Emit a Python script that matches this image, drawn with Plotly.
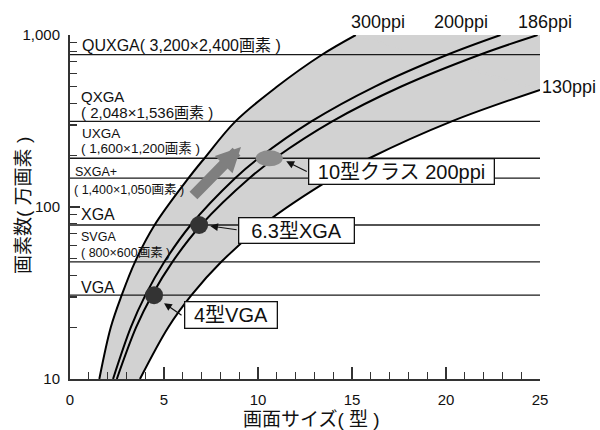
import math
import plotly.graph_objects as go

# ---------------- data ----------------
X_RANGE = [0, 25]          # 画面サイズ (型)
Y_RANGE = [10, 1000]       # 画素数 (万画素)

RES_NAMES = ["QUXGA", "QXGA", "UXGA", "SXGA+", "XGA", "SVGA", "VGA"]
RES_DIMS = ["3,200×2,400", "2,048×1,536", "1,600×1,200", "1,400×1,050", None, "800×600", None]
RES_PIXELS = [768, 314.6, 192, 147, 78.6, 48, 30.72]   # 万画素

CURVE_NAMES = ["300ppi", "200ppi", "186ppi", "130ppi"]
PPI300_X = [1.56, 2.17, 2.75, 3.46, 4.5, 6.3, 7.15, 8.8, 11.0, 13.4, 15.2]
PPI300_Y = [10, 20, 30.72, 48, 78.6, 147, 192, 314.6, 500, 768, 1000]
PPI200_X = [2.29, 3.24, 4.01, 5.02, 6.42, 8.78, 10.03, 12.84, 16.19, 20.07, 22.9]
PPI200_Y = [10, 20, 30.72, 48, 78.6, 147, 192, 314.6, 500, 768, 1000]
PPI186_X = [2.49, 3.52, 4.36, 5.45, 6.97, 9.54, 10.9, 13.95, 17.59, 21.8, 24.87]
PPI186_Y = [10, 20, 30.72, 48, 78.6, 147, 192, 314.6, 500, 768, 1000]
PPI130_X = [3.72, 5.23, 6.46, 8.05, 10.26, 13.96, 15.92, 20.3, 25.0]
PPI130_Y = [10, 20, 30.72, 48, 78.6, 147, 192, 314.6, 480]

DEVICE_NAMES = ["4型VGA", "6.3型XGA"]
DEVICE_X = [4.47, 6.87]
DEVICE_Y = [30.72, 78.6]
CLASS10_NAME = "10型クラス 200ppi"
CLASS10_X = 10.6
CLASS10_Y = 192

X_TICKS = [0, 5, 10, 15, 20, 25]
Y_TICKS = [10, 100, 1000]
Y_TICK_TEXT = ["10", "100", "1,000"]
Y_MINOR = [20, 30, 40, 50, 60, 70, 80, 90, 200, 300, 400, 500, 600, 700, 800, 900]

X_TITLE = "画面サイズ( 型 )"
Y_TITLE = "画素数( 万画素 )"

# ---------------- layout helpers ----------------
W, H = 600, 430
M = dict(l=70, r=60, t=35, b=51, autoexpand=False)
PW = W - M["l"] - M["r"]
PH = H - M["t"] - M["b"]
LOG_LO, LOG_HI = math.log10(Y_RANGE[0]), math.log10(Y_RANGE[1])
PLOT_L = M["l"]
PLOT_B = M["t"] + PH


def px2x(px):
    return X_RANGE[0] + (px - PLOT_L) / PW * (X_RANGE[1] - X_RANGE[0])


def py2ylog(py):
    return LOG_LO + (PLOT_B - py) / PH * (LOG_HI - LOG_LO)


def px2paper(px):
    return (px - PLOT_L) / PW


def py2paper(py):
    return (PLOT_B - py) / PH


FONT = "Liberation Sans, Arial, Noto Sans CJK JP, sans-serif"
INK = "#111111"
GRAY_FILL = "#d2d2d2"

fig = go.Figure()

# shaded band between 300ppi and 130ppi
fig.add_trace(go.Scatter(x=PPI300_X, y=PPI300_Y, mode="lines",
                         line=dict(width=0, shape="spline", color=GRAY_FILL),
                         hoverinfo="skip", showlegend=False))
fig.add_trace(go.Scatter(x=PPI130_X, y=PPI130_Y, mode="lines", fill="tonexty",
                         fillcolor=GRAY_FILL,
                         line=dict(width=0, shape="spline", color=GRAY_FILL),
                         hoverinfo="skip", showlegend=False))
# top-right corner of the band
fig.add_trace(go.Scatter(x=[PPI300_X[-1], X_RANGE[1], PPI130_X[-1], PPI300_X[-1]],
                         y=[Y_RANGE[1], Y_RANGE[1], PPI130_Y[-1], Y_RANGE[1]],
                         mode="lines", fill="toself", fillcolor=GRAY_FILL,
                         line=dict(width=1.5, color=GRAY_FILL),
                         hoverinfo="skip", showlegend=False))

# resolution lines
for v in RES_PIXELS:
    fig.add_trace(go.Scatter(x=X_RANGE, y=[v, v], mode="lines",
                             line=dict(color="#1a1a1a", width=1.3),
                             hoverinfo="skip", showlegend=False))

# ppi curves
for xs, ys, nm in [(PPI300_X, PPI300_Y, CURVE_NAMES[0]),
                   (PPI200_X, PPI200_Y, CURVE_NAMES[1]),
                   (PPI186_X, PPI186_Y, CURVE_NAMES[2]),
                   (PPI130_X, PPI130_Y, CURVE_NAMES[3])]:
    fig.add_trace(go.Scatter(x=xs, y=ys, mode="lines", name=nm,
                             line=dict(color="#000000", width=2, shape="spline"),
                             showlegend=False))

# device dots
fig.add_trace(go.Scatter(x=DEVICE_X, y=DEVICE_Y, mode="markers",
                         marker=dict(size=18, color="#333333", line=dict(width=0)),
                         showlegend=False))

# 10-inch class ellipse
fig.add_shape(type="circle", xref="x", yref="paper",
              xsizemode="pixel", ysizemode="pixel",
              xanchor=CLASS10_X,
              yanchor=(math.log10(CLASS10_Y) - LOG_LO) / (LOG_HI - LOG_LO),
              x0=-13.5, x1=13.5, y0=-8, y1=8,
              fillcolor="#8c8c8c", line=dict(width=0), layer="above")

ann = []

# resolution labels (text lines relative to each line)
LABEL_LINES = [
    # (index, text, size, xshift, yshift)
    (0, f"{RES_NAMES[0]}( {RES_DIMS[0]}画素 )", 16, 10, 9),
    (1, RES_NAMES[1], 15, 9, 25),
    (1, f"( {RES_DIMS[1]}画素 )", 15, 9, 9),
    (2, RES_NAMES[2], 13.5, 10, 25),
    (2, f"( {RES_DIMS[2]}画素 )", 13.5, 9, 10),
    (3, RES_NAMES[3], 12.5, 3, 6),
    (3, f"( {RES_DIMS[3]}画素 )", 12.5, 2, -12),
    (4, RES_NAMES[4], 16, 9, 10),
    (5, RES_NAMES[5], 12.5, 9, 25),
    (5, f"( {RES_DIMS[5]}画素 )", 12.5, 9, 9),
    (6, RES_NAMES[6], 16, 9, 8),
]
for i, txt, sz, xs, ys in LABEL_LINES:
    ann.append(dict(x=X_RANGE[0], y=math.log10(RES_PIXELS[i]), xref="x", yref="y",
                    text=txt, showarrow=False, xanchor="left", yanchor="middle",
                    xshift=xs, yshift=ys, font=dict(size=sz, color=INK, family=FONT)))

# ppi labels (outside the plot area -> paper coordinates)
PPI_LABEL_PX = [(378, 21.5), (460.5, 21.5), (544.5, 21.5), (569, 87)]
for nm, (px, py) in zip(CURVE_NAMES, PPI_LABEL_PX):
    ann.append(dict(x=px2paper(px), y=py2paper(py), xref="paper", yref="paper", text=nm,
                    showarrow=False, xanchor="center", yanchor="middle",
                    font=dict(size=18, color=INK, family=FONT)))

# thick gray trend arrow
ann.append(dict(x=px2x(241), y=py2ylog(147), xref="x", yref="y", text="",
                showarrow=True, ax=-49, ay=50, arrowhead=2, arrowsize=0.45,
                arrowwidth=11, arrowcolor="#7f7f7f"))

# callout boxes with small arrows
CALLOUTS = [
    # text, anchor x, anchor y, box center shift, box size, arrow tip shift, arrow tail offset
    (DEVICE_NAMES[0], DEVICE_X[0], DEVICE_Y[0], (77, -20), (94, 28), (10, -8), (19, 13)),
    (DEVICE_NAMES[1], DEVICE_X[1], DEVICE_Y[1], (97.5, -5.5), (117, 27), (11, -1), (28, 4)),
    (CLASS10_NAME, CLASS10_X, CLASS10_Y, (132.5, -13.5), (187, 27), (17, -3), (22, 11)),
]
BW = 1.3
for txt, x, y, (bx, by), (w, h), (tx, ty), (ax, ay) in CALLOUTS:
    ann.append(dict(x=x, y=math.log10(y), xref="x", yref="y", text=txt,
                    showarrow=False, xshift=bx, yshift=by,
                    width=w - 2 * BW, height=h - 2 * BW, borderpad=0,
                    bordercolor=INK, borderwidth=BW, bgcolor="#ffffff",
                    font=dict(size=20, color=INK, family=FONT)))
    ann.append(dict(x=x, y=math.log10(y), xref="x", yref="y", text="",
                    showarrow=True, xshift=tx, yshift=ty, ax=ax, ay=ay,
                    arrowhead=2, arrowsize=1.3, arrowwidth=1.2, arrowcolor=INK))

# axis titles
ann.append(dict(x=px2paper(311.5), y=py2paper(419), xref="paper", yref="paper",
                text=X_TITLE, showarrow=False, xanchor="center", yanchor="middle",
                font=dict(size=19, color=INK, family=FONT)))
ann.append(dict(x=px2paper(23), y=py2paper(206), xref="paper", yref="paper",
                text=Y_TITLE, showarrow=False, xanchor="center", yanchor="middle",
                textangle=-90, font=dict(size=19, color=INK, family=FONT)))

fig.update_layout(
    width=W, height=H, margin=M,
    paper_bgcolor="#ffffff", plot_bgcolor="#ffffff",
    showlegend=False, annotations=ann,
    font=dict(family=FONT, size=15, color=INK),
    xaxis=dict(range=X_RANGE, tickvals=X_TICKS, ticks="inside", ticklen=12,
               tickwidth=1.2, tickcolor="#333333", showgrid=False, zeroline=False,
               showline=True, linecolor="#333333", linewidth=2,
               tickfont=dict(size=15, color=INK, family=FONT), ticklabelstandoff=6,
               minor=dict(dtick=1, ticks="inside", ticklen=7, tickwidth=1.2,
                          tickcolor="#333333", showgrid=False)),
    yaxis=dict(type="log", range=[LOG_LO, LOG_HI], tickvals=Y_TICKS,
               ticktext=Y_TICK_TEXT, ticks="inside", ticklen=10, tickwidth=1.2,
               tickcolor="#333333", showgrid=False, zeroline=False,
               showline=True, linecolor="#333333", linewidth=2,
               tickfont=dict(size=15, color=INK, family=FONT), ticklabelstandoff=5,
               minor=dict(tickmode="array", tickvals=Y_MINOR, ticks="inside",
                          ticklen=7, tickwidth=1.2, tickcolor="#333333",
                          showgrid=False)),
)

fig.write_html(
    "out.html",
    config={"displayModeBar": False, "staticPlot": True},
    post_script="document.body.style.margin='0';document.body.style.overflow='hidden';",
)
